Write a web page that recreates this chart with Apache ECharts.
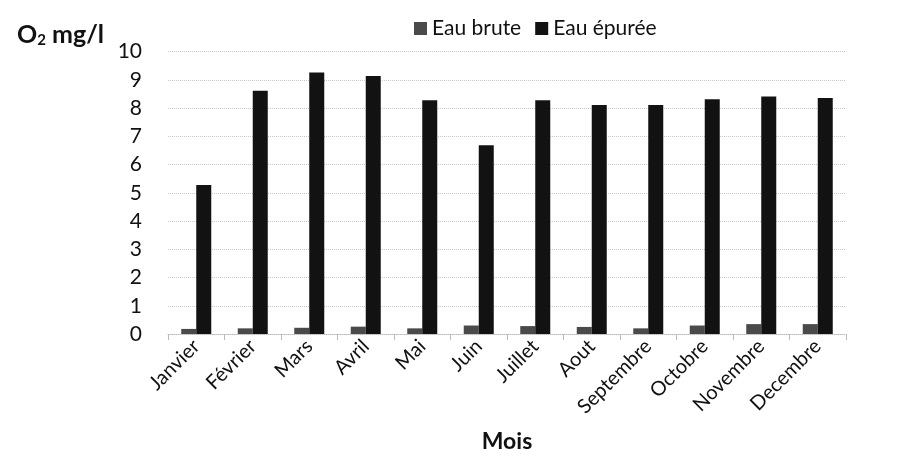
<!DOCTYPE html>
<html>
<head>
<meta charset="utf-8" />
<script src="https://cdn.jsdelivr.net/npm/echarts@6/dist/echarts.min.js"></script>
<style>
  html, body { margin: 0; padding: 0; background: #fff; }
  #chart { width: 922px; height: 462px; }
</style>
</head>
<body>
<div id="chart"></div>
<script>
// months on the x axis
var mois = ["Janvier", "Février", "Mars", "Avril", "Mai", "Juin", "Juillet", "Aout", "Septembre", "Octobre", "Novembre", "Decembre"];
// dissolved oxygen, mg/l
var eauBrute = [0.18, 0.2, 0.22, 0.26, 0.2, 0.3, 0.28, 0.25, 0.2, 0.3, 0.35, 0.35];
var eauEpuree = [5.27, 8.61, 9.26, 9.13, 8.27, 6.68, 8.27, 8.11, 8.11, 8.31, 8.41, 8.35];

var chart = echarts.init(document.getElementById("chart"));
var font = "Lato, 'Noto Sans', sans-serif";

var option = {
  animation: false,
  textStyle: { fontFamily: font },
  legend: {
    top: 13,
    left: 409,
    itemWidth: 13,
    itemHeight: 13,
    itemGap: 14,
    icon: "rect",
    textStyle: { fontSize: 21, color: "#111", fontFamily: font },
    data: ["Eau brute", "Eau épurée"],
  },
  grid: {
    left: 168,
    right: 76,
    top: 51.5,
    bottom: 128,
  },
  xAxis: {
    type: "category",
    data: mois,
    name: "Mois",
    nameLocation: "middle",
    nameGap: 96,
    nameTextStyle: { fontSize: 23, fontWeight: "bold", color: "#111", fontFamily: font },
    axisLine: { lineStyle: { color: "#bbb", type: "dotted" } },
    axisTick: { show: true, length: 6, lineStyle: { color: "#bbb" } },
    axisLabel: { rotate: 45, fontSize: 20, color: "#111", margin: 9, fontFamily: font },
  },
  yAxis: {
    type: "value",
    min: 0,
    max: 10,
    interval: 1,
    name: "{a|O}{s|2}{a| mg/l}",
    nameLocation: "end",
    nameGap: 4,
    nameTextStyle: {
      align: "right",
      padding: [0, 64, 0, 0],
      rich: {
        a: { fontSize: 25, fontWeight: "bold", color: "#111", fontFamily: font },
        s: { fontSize: 15, fontWeight: "bold", color: "#111", fontFamily: font, padding: [10, 0, 0, 0] },
      },
    },
    axisLine: { show: false },
    axisTick: { show: false },
    axisLabel: { fontSize: 21, color: "#111", margin: 26, fontFamily: font },
    splitLine: { lineStyle: { color: "#c8c8c8", type: "dotted" } },
  },
  series: [
    {
      name: "Eau brute",
      type: "bar",
      data: eauBrute,
      barWidth: 15,
      barGap: "0%",
      itemStyle: { color: "#4a4a4a" },
    },
    {
      name: "Eau épurée",
      type: "bar",
      data: eauEpuree,
      barWidth: 15,
      itemStyle: { color: "#121212" },
    },
  ],
};

chart.setOption(option);
</script>
</body>
</html>
